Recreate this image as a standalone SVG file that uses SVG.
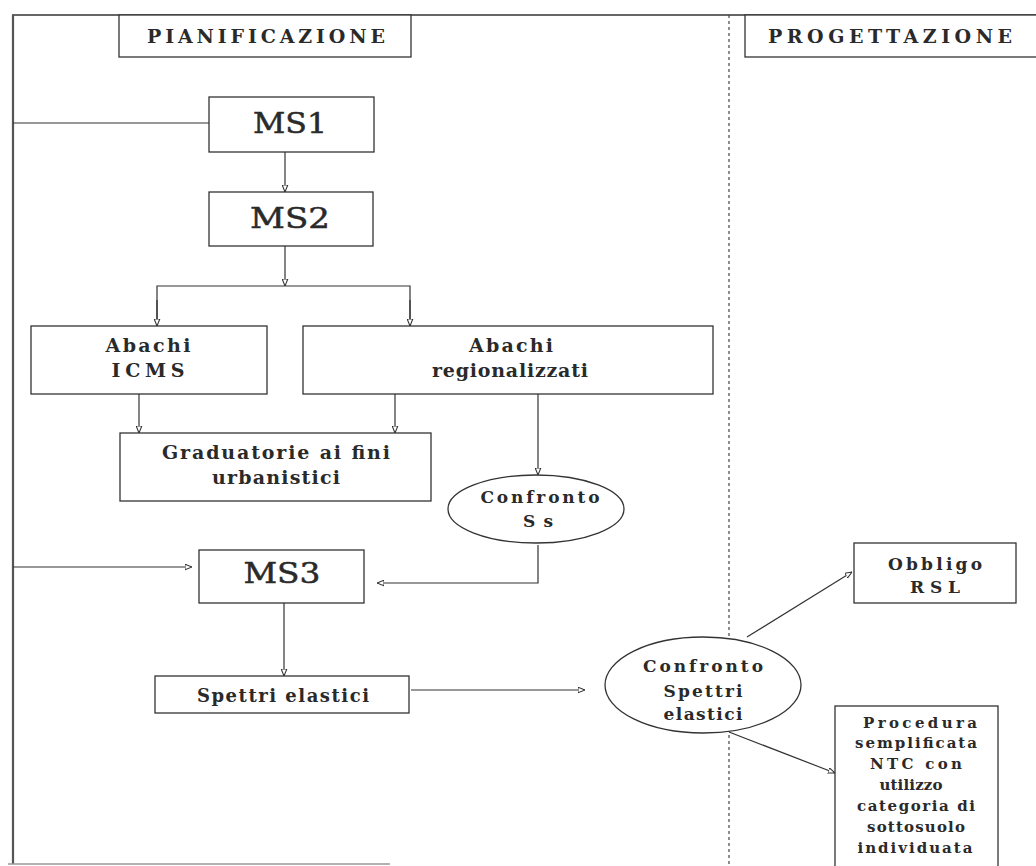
<svg xmlns="http://www.w3.org/2000/svg" width="1036" height="866" viewBox="0 0 1036 866">
<style>
.box{fill:#fff;stroke:#333;stroke-width:1.3}
.ell{fill:#fff;stroke:#333;stroke-width:1.3}
.t{font-family:"DejaVu Serif","Liberation Serif",serif;font-weight:bold;fill:#2a2a2a;text-anchor:middle}
.big{font-family:"DejaVu Serif","Liberation Serif",serif;fill:#2a2a2a;stroke:#2a2a2a;stroke-width:0.5;text-anchor:middle;font-size:28px}
.ln{fill:none;stroke:#333;stroke-width:1.2}
</style>
<defs>
<marker id="ah" viewBox="0 0 10 10" refX="10" refY="5" markerWidth="7" markerHeight="7" orient="auto" markerUnits="userSpaceOnUse">
<path d="M0,1 L10,5 L0,9 z" fill="#fff" stroke="#333" stroke-width="1.5"/>
</marker>
</defs>
<rect width="1036" height="866" fill="#fff"/>
<g id="frame">
<line x1="12" y1="15" x2="1036" y2="15" stroke="#333" stroke-width="1.3"/>
<line x1="13" y1="15" x2="13" y2="864" stroke="#555" stroke-width="2.2"/>
<line x1="8" y1="864" x2="390" y2="864" stroke="#999" stroke-width="1.5"/>
<line x1="729" y1="15" x2="729" y2="866" stroke="#444" stroke-width="1.2" stroke-dasharray="3,3"/>
</g>
<g id="connectors">
<line class="ln" x1="13" y1="123" x2="209" y2="123"/>
<line class="ln" x1="285" y1="152" x2="285" y2="192" marker-end="url(#ah)"/>
<line class="ln" x1="285" y1="246" x2="285" y2="286" marker-end="url(#ah)"/>
<polyline class="ln" points="157,326 157,286 410,286 410,326"/>
<line class="ln" x1="157" y1="300" x2="157" y2="326" marker-end="url(#ah)"/>
<line class="ln" x1="410" y1="300" x2="410" y2="326" marker-end="url(#ah)"/>
<line class="ln" x1="139" y1="394" x2="139" y2="433" marker-end="url(#ah)"/>
<line class="ln" x1="395" y1="394" x2="395" y2="433" marker-end="url(#ah)"/>
<line class="ln" x1="538" y1="394" x2="538" y2="475" marker-end="url(#ah)"/>
<polyline class="ln" points="538,545 538,583 377,583" marker-end="url(#ah)"/>
<line class="ln" x1="13" y1="567" x2="192" y2="567" marker-end="url(#ah)"/>
<line class="ln" x1="284" y1="603" x2="284" y2="676" marker-end="url(#ah)"/>
<line class="ln" x1="411" y1="690" x2="585" y2="690" marker-end="url(#ah)"/>
<line class="ln" x1="747" y1="637" x2="852" y2="572" marker-end="url(#ah)"/>
<line class="ln" x1="729" y1="732" x2="835" y2="773" marker-end="url(#ah)"/>
</g>
<g id="pianificazione">
<rect class="box" x="119" y="15" width="292" height="42"/>
<text class="t" x="266" y="43" font-size="19" textLength="238" lengthAdjust="spacing">PIANIFICAZIONE</text>
</g>
<g id="progettazione">
<rect class="box" x="745" y="15" width="300" height="42"/>
<text class="t" x="890" y="43" font-size="19" textLength="244" lengthAdjust="spacing">PROGETTAZIONE</text>
</g>
<g id="ms1">
<rect class="box" x="209" y="97" width="165" height="55"/>
<text class="big" x="290" y="133" textLength="74" lengthAdjust="spacingAndGlyphs">MS1</text>
</g>
<g id="ms2">
<rect class="box" x="209" y="192" width="164" height="54"/>
<text class="big" x="290" y="228" textLength="80" lengthAdjust="spacingAndGlyphs">MS2</text>
</g>
<g id="abachi-icms">
<rect class="box" x="31" y="326" width="236" height="68"/>
<text class="t" x="148" y="352" font-size="19" textLength="85" lengthAdjust="spacing">Abachi</text>
<text class="t" x="148" y="377" font-size="19" textLength="73" lengthAdjust="spacing">ICMS</text>
</g>
<g id="abachi-regionalizzati">
<rect class="box" x="303" y="326" width="410" height="68"/>
<text class="t" x="511" y="352" font-size="19" textLength="84" lengthAdjust="spacing">Abachi</text>
<text class="t" x="510" y="377" font-size="19" textLength="156" lengthAdjust="spacing">regionalizzati</text>
</g>
<g id="graduatorie">
<rect class="box" x="120" y="433" width="311" height="68"/>
<text class="t" x="276" y="459" font-size="19" textLength="228" lengthAdjust="spacing">Graduatorie ai fini</text>
<text class="t" x="276" y="484" font-size="19" textLength="128" lengthAdjust="spacing">urbanistici</text>
</g>
<g id="confronto-ss">
<ellipse class="ell" cx="536" cy="509" rx="88" ry="34"/>
<text class="t" x="540" y="503" font-size="17" textLength="119" lengthAdjust="spacing">Confronto</text>
<text class="t" x="538" y="527" font-size="17" textLength="30" lengthAdjust="spacing">Ss</text>
</g>
<g id="ms3">
<rect class="box" x="199" y="550" width="165" height="53"/>
<text class="big" x="282" y="583" textLength="77" lengthAdjust="spacingAndGlyphs">MS3</text>
</g>
<g id="spettri-elastici">
<rect class="box" x="155" y="676" width="254" height="37"/>
<text class="t" x="283" y="702" font-size="18" textLength="172" lengthAdjust="spacing">Spettri elastici</text>
</g>
<g id="confronto-spettri">
<ellipse class="ell" cx="703" cy="685" rx="98" ry="48"/>
<text class="t" x="703" y="672" font-size="17" textLength="120" lengthAdjust="spacing">Confronto</text>
<text class="t" x="703" y="697" font-size="17" textLength="79" lengthAdjust="spacing">Spettri</text>
<text class="t" x="703" y="720" font-size="17" textLength="79" lengthAdjust="spacing">elastici</text>
</g>
<g id="obbligo-rsl">
<rect class="box" x="854" y="543" width="162" height="60"/>
<text class="t" x="935" y="570" font-size="17" textLength="94" lengthAdjust="spacing">Obbligo</text>
<text class="t" x="935" y="593" font-size="17" textLength="50" lengthAdjust="spacing">RSL</text>
</g>
<g id="procedura">
<rect class="box" x="835" y="706" width="163" height="175"/>
<text class="t" x="920" y="728" font-size="15" textLength="114" lengthAdjust="spacing">Procedura</text>
<text class="t" x="916" y="748" font-size="15" textLength="122" lengthAdjust="spacing">semplificata</text>
<text class="t" x="916" y="769" font-size="15" textLength="92" lengthAdjust="spacing">NTC con</text>
<text class="t" x="911" y="790" font-size="15" textLength="63" lengthAdjust="spacing">utilizzo</text>
<text class="t" x="916" y="811" font-size="15" textLength="118" lengthAdjust="spacing">categoria di</text>
<text class="t" x="916" y="832" font-size="15" textLength="98" lengthAdjust="spacing">sottosuolo</text>
<text class="t" x="915" y="853" font-size="15" textLength="115" lengthAdjust="spacing">individuata</text>
</g>
</svg>
